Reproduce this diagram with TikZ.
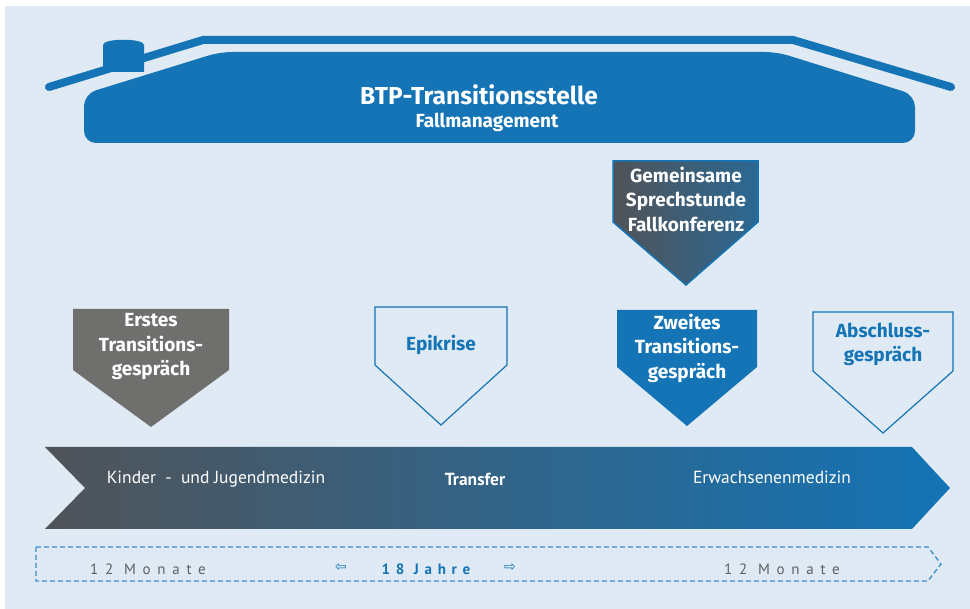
\documentclass[tikz,border=0pt]{standalone}
\usepackage{fontspec}
\setmainfont{Fira Sans}
\newfontfamily\barfont{PT Sans}
\newfontfamily\symfont{DejaVu Sans}
\definecolor{bg}{HTML}{DFEAF4}
\definecolor{tblue}{HTML}{1474B6}
\definecolor{tgray}{HTML}{6F6F6E}
\definecolor{dgray}{HTML}{505358}
\definecolor{midblue}{HTML}{2B6893}
\definecolor{dashblue}{HTML}{3C8DCB}
\definecolor{txtgray}{HTML}{5E5F61}
\tikzset{
  boxtext/.style={align=center, font=\bfseries\fontsize{19}{24.5}\selectfont},
  whitetext/.style={boxtext, text=white},
  bluetext/.style={boxtext, text=tblue},
  outlinebox/.style={draw=tblue, line width=1.2pt, fill=bg},
  bartext/.style={text=white, font=\barfont\fontsize{17.5}{19}\selectfont},
  spaced/.style={font=\barfont\fontsize{15}{17}\selectfont\addfontfeature{LetterSpace=45}},
  arrowsym/.style={text=tblue, font=\symfont\fontsize{14}{15}\selectfont},
}
\begin{document}
\begin{tikzpicture}[x=1pt,y=-1pt]
\useasboundingbox (0,0) rectangle (970,609);
\fill[white] (0,0) rectangle (970,609);
\fill[bg] (5,6) rectangle (970,609);

% house: chimney, body and roof line
\fill[tblue] (103,72) -- (103,45) .. controls (103,38) and (144,38) .. (144,45) -- (144,72) -- cycle;
\fill[tblue, rounded corners=12pt] (84,143) -- (84,94) -- (220,52) -- (777,52) -- (915,95) -- (915,143) -- cycle;
\draw[tblue, line width=8pt, line cap=round] (49,87) -- (203,40) -- (793,40) -- (951,87);
\node[text=white, font=\bfseries\fontsize{24.5}{28}\selectfont] (title) at (479,95) {BTP-Transitionsstelle};
\node[text=white, font=\bfseries\fontsize{19}{22}\selectfont] (sub) at (487,122) {Fallmanagement};

% upper box
\shade[left color=dgray, right color=midblue, draw=tblue, line width=1.5pt]
  (613,161) -- (758,161) -- (758,222) -- (686,285) -- (613,222) -- cycle;
\node[whitetext] (gemeinsam) at (686,199) {Gemeinsame\\Sprechstunde\\Fallkonferenz};

% milestone boxes
\fill[tgray] (73,309) -- (229,309) -- (229,370) -- (151,427) -- (73,370) -- cycle;
\node[whitetext] (erstes) at (151,347) {Erstes\\Transitions-\\gespräch};

\draw[outlinebox] (375,307) -- (507,307) -- (507,365) -- (441,425) -- (375,365) -- cycle;
\node[bluetext] (epikrise) at (441,345) {Epikrise};

\fill[tblue] (617,310) -- (757,310) -- (757,367) -- (687,426) -- (617,367) -- cycle;
\node[whitetext] (zweites) at (687,348) {Zweites\\Transitions-\\gespräch};

\draw[outlinebox] (813,312) -- (953,312) -- (953,371) -- (883,433) -- (813,371) -- cycle;
\node[bluetext] (abschluss) at (883,344.5) {Abschluss-\\gespräch};

% transfer bar
\shade[left color=dgray, right color=tblue]
  (45,447) -- (912,447) -- (950,488) -- (912,529) -- (45,529) -- (85,488) -- cycle;
\node[bartext] (kinder) at (216,479) {Kinder\ \ -\ \ und Jugendmedizin};
\node[bartext, font=\barfont\bfseries\fontsize{17.5}{19}\selectfont] (transfer) at (475,479) {Transfer};
\node[bartext] (erwachsen) at (772,477) {Erwachsenenmedizin};

% time span
\draw[dashblue, line width=1.3pt, dash pattern=on 5pt off 3pt]
  (36,547) -- (928,547) -- (941,564) -- (928,581) -- (36,581) -- cycle;
\node[spaced, text=txtgray] (monateA) at (148,569) {12 Monate};
\node[arrowsym] (links) at (341,568) {⇦};
\node[text=tblue, font=\barfont\bfseries\fontsize{15}{17}\selectfont\addfontfeature{LetterSpace=38}] (jahre) at (426,569) {18 Jahre};
\node[arrowsym] (rechts) at (510,568) {⇨};
\node[spaced, text=txtgray] (monateB) at (782,569) {12 Monate};
\end{tikzpicture}
\end{document}
